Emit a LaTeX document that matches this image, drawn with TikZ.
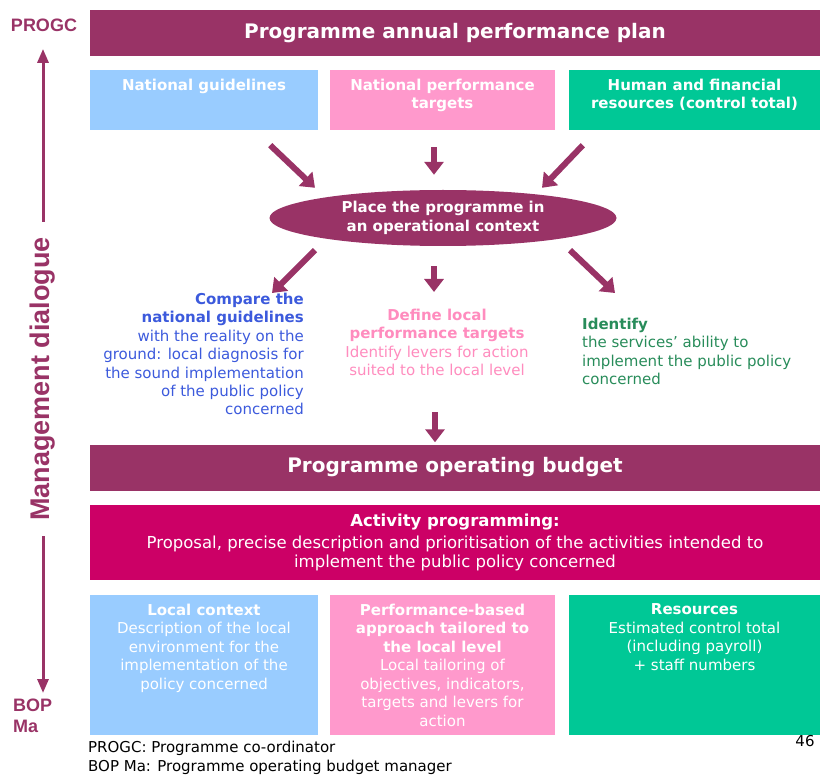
\documentclass[tikz,border=0pt]{standalone}
\usepackage{fontspec}
\setmainfont{DejaVu Sans}
\newfontfamily\sidefont{Liberation Sans}
\usetikzlibrary{shapes,positioning,calc,arrows.meta}

\definecolor{plum}{RGB}{153,51,102}
\definecolor{skyB}{RGB}{153,204,255}
\definecolor{roseB}{RGB}{255,153,204}
\definecolor{mintB}{RGB}{0,200,150}
\definecolor{cerise}{RGB}{204,0,102}
\definecolor{guideT}{RGB}{60,90,220}
\definecolor{targetT}{RGB}{255,140,190}
\definecolor{abilityT}{RGB}{40,140,90}

\begin{document}
\begin{tikzpicture}
  [x=1pt,y=-1pt,
   bannerN/.style={fill=plum,text=white,minimum width=730pt,minimum height=46pt,
     inner sep=0pt,font=\fontsize{20}{24}\selectfont\bfseries},
   boxN/.style={minimum height=60pt,inner sep=0pt},
   lowboxN/.style={minimum height=140pt,inner sep=0pt},
   boxtextN/.style={text=white,align=center,inner sep=0pt,
     font=\fontsize{15}{18.5}\selectfont},
   ellN/.style={ellipse,fill=plum,text=white,align=center,minimum width=347pt,
     minimum height=56pt,inner sep=0pt,font=\fontsize{15}{19}\selectfont\bfseries},
   noteN/.style={inner sep=0pt,font=\fontsize{15}{18.4}\selectfont},
   bigA/.style={draw=plum,line width=6pt,-{Triangle[width=19pt,length=13pt]}},
   sideA/.style={draw=plum,line width=3pt,-{Triangle[width=11pt,length=14pt]}},
   node distance=9pt]

  \useasboundingbox (0,0) rectangle (821,775);

  % plan banner and the three inputs
  \node[bannerN] (plan) at (455,33) {Programme annual performance plan};

  \node[boxN,fill=skyB,minimum width=228pt]  (nat) at (204,100)   {};
  \node[boxN,fill=roseB,minimum width=225pt] (tgt) at (442.5,100) {};
  \node[boxN,fill=mintB,minimum width=251pt] (res) at (694.5,100) {};

  \node[boxtextN,below=of nat.north] {\bfseries National guidelines};
  \node[boxtextN,below=of tgt.north] {\bfseries National performance\\ \bfseries targets};
  \node[boxtextN,below=of res.north] {\bfseries Human and financial\\ \bfseries resources (control total)};

  \node[ellN] (ctx) at (443,218) {Place the programme in\\ an operational context};

  \draw[bigA] ([shift={(-48,15)}]nat.south east) -- ([shift={(-128,-2)}]ctx.north);
  \draw[bigA] ([shift={(-8.5,17)}]tgt.south)     -- ([shift={(-9,-15)}]ctx.north);
  \draw[bigA] ([shift={(14,15)}]res.south west)  -- ([shift={(99,-2)}]ctx.north);

  % the three local tasks
  \node[noteN,text=guideT,align=right,anchor=north east] (cmp) at (304,293)
    {\bfseries Compare the\\ \bfseries national guidelines\\ with the reality on the\\
     ground: local diagnosis for\\ the sound implementation\\ of the public policy\\ concerned};
  \node[noteN,text=targetT,align=center,anchor=north] (loc) at (437,309)
    {\bfseries Define local\\ \bfseries performance targets\\ Identify levers for action\\
     suited to the local level};
  \node[noteN,text=abilityT,align=left,anchor=north west] (idf) at (582,318)
    {\bfseries Identify\\ the services' ability to\\ implement the public policy\\ concerned};

  \draw[bigA] ([shift={(-128,4)}]ctx.south) -- ([shift={(-32,0)}]cmp.north east);
  \draw[bigA] ([shift={(-9,20)}]ctx.south)  -- ([shift={(-3,-17)}]loc.north);
  \draw[bigA] ([shift={(127,4)}]ctx.south)  -- ([shift={(33,-25)}]idf.north west);

  % budget, activities and the three components
  \node[bannerN] (budget) at (455,467.5) {Programme operating budget};
  \draw[bigA] ([shift={(-20,-32)}]budget.north) -- ([shift={(-20,-2)}]budget.north);

  \node[fill=cerise,text=white,align=center,minimum width=730pt,minimum height=75pt,
    inner sep=0pt,font=\fontsize{16.5}{19.5}\selectfont] (act) at (455,542.5)
    {\bfseries Activity programming:\\[2pt] Proposal, precise description and prioritisation
     of the activities intended to\\ implement the public policy concerned};

  \node[lowboxN,fill=skyB,minimum width=228pt]  (ctxB) at (204,665)   {};
  \node[lowboxN,fill=roseB,minimum width=225pt] (perf) at (442.5,665) {};
  \node[lowboxN,fill=mintB,minimum width=251pt] (rsc)  at (694.5,665) {};

  \node[boxtextN,below=of ctxB.north]
    {\bfseries Local context\\ Description of the local\\ environment for the\\
     implementation of the\\ policy concerned};
  \node[boxtextN,below=of perf.north]
    {\bfseries Performance-based\\ \bfseries approach tailored to\\ \bfseries the local level\\
     Local tailoring of\\ objectives, indicators,\\ targets and levers for\\ action};
  \node[boxtextN,below=of rsc.north]
    {\bfseries Resources\\ Estimated control total\\ (including payroll)\\ + staff numbers};

  % management dialogue axis
  \node[text=plum,font=\sidefont\fontsize{18}{21}\selectfont\bfseries] (progc) at (44,25) {PROGC};
  \node[text=plum,rotate=90,font=\sidefont\fontsize{27}{30}\selectfont\bfseries] (mgmt) at (43,379)
    {Management dialogue};
  \node[text=plum,align=left,anchor=north west,inner sep=0pt,
    font=\sidefont\fontsize{18}{21}\selectfont\bfseries] (bop) at (13,699) {BOP\\ Ma};

  \draw[sideA,shorten <=12pt,shorten >=14pt] (mgmt.east) -- (mgmt.east |- progc.south);
  \draw[sideA,shorten <=12pt] (mgmt.west) -- ([shift={(30,-6)}]bop.north west);

  % footnote and page number
  \node[noteN,align=left,anchor=north west] (key) at (88,741)
    {PROGC: Programme co-ordinator\\ BOP Ma: Programme operating budget manager};
  \node[noteN] (page) at (805,741) {46};
\end{tikzpicture}
\end{document}
